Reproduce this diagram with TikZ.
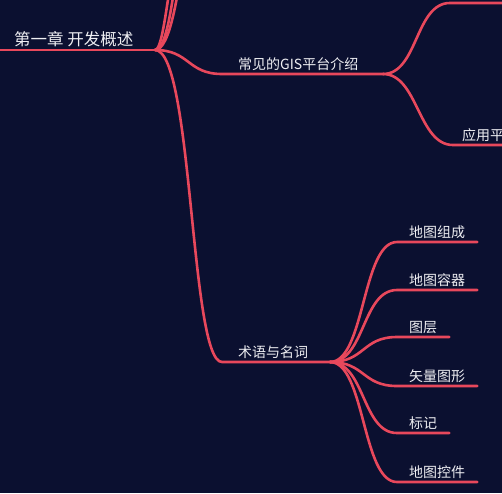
\documentclass[tikz,border=0pt]{standalone}
\usepackage{fontspec}
\setmainfont{Noto Sans CJK SC}
\usepackage{xcolor}
\usepackage{tikz}
\usetikzlibrary{positioning,calc}

\definecolor{mapbg}{HTML}{0B1030}
\definecolor{mapline}{HTML}{E8485C}
\definecolor{maptext}{HTML}{EEEEF2}

\tikzset{
    branch/.style={draw=mapline, line width=2.6pt, line cap=round},
    rootnode/.style={anchor=south west, text=maptext, inner xsep=14pt, inner ysep=3pt,
        font=\fontsize{16.5}{20}\selectfont},
    topicnode/.style={anchor=south west, text=maptext, inner xsep=16pt, inner ysep=3pt,
        font=\fontsize{14}{17}\selectfont},
    leafnode/.style={anchor=south west, text=maptext, inner xsep=12pt, inner ysep=3pt,
        font=\fontsize{14}{17}\selectfont}
}

\begin{document}
\begin{tikzpicture}[x=1pt,y=-1pt]
    \useasboundingbox (0,0) rectangle (502,493);
    \fill[mapbg] (0,0) rectangle (502,493);
    \clip (0,0) rectangle (502,493);

    % Root
    \node[rootnode] (ch1) at (0,50) {第一章 开发概述};
    \coordinate (rb) at (155,50);
    \draw[branch] (ch1.south west) -- (rb);

    % Siblings above (out of view)
    \coordinate (up1) at (190,-70);
    \coordinate (up2) at (200,-120);
    \coordinate (up3) at (210,-170);
    \draw[branch] (rb) .. controls +(12,0) and +(-20,0) .. (up1);
    \draw[branch] (rb) .. controls +(22,0) and +(-22,0) .. (up2);
    \draw[branch] (rb) .. controls +(30,0) and +(-22,0) .. (up3);

    % GIS platforms
    \node[topicnode] (gis) at (222,74) {常见的GIS平台介绍};
    \coordinate (gb) at (383,74);
    \draw[branch] (rb) .. controls +(35,0) and +(-35,0) .. (gis.south west) -- (gb);
    \coordinate (gtop) at (450,3);
    \draw[branch] (gb) .. controls +(35,0) and +(-35,0) .. (gtop) -- (510,3);
    \node[leafnode, inner xsep=9pt] (app) at (453,145) {应用平台};
    \draw[branch] (gb) .. controls +(35,0) and +(-35,0) .. (app.south west) -- (app.south east);

    % Terms
    \node[topicnode] (terms) at (222,362) {术语与名词};
    \coordinate (tb) at (330,362);
    \draw[branch] (rb) .. controls +(38,0) and +(-32,0) .. (terms.south west) -- (tb);

    \node[leafnode] (comp) at (397,242) {地图组成};
    \node[leafnode] (cont) at (397,290) {地图容器};
    \node[leafnode] (layer) at (397,337) {图层};
    \node[leafnode] (vect) at (397,386) {矢量图形};
    \node[leafnode] (mark) at (397,433) {标记};
    \node[leafnode] (ctrl) at (397,482) {地图控件};

    \draw[branch] (tb) .. controls +(35,0) and +(-35,0) .. (comp.south west) -- (comp.south east);
    \draw[branch] (tb) .. controls +(35,0) and +(-35,0) .. (cont.south west) -- (cont.south east);
    \draw[branch] (tb) .. controls +(35,0) and +(-35,0) .. (layer.south west) -- (layer.south east);
    \draw[branch] (tb) .. controls +(35,0) and +(-35,0) .. (vect.south west) -- (vect.south east);
    \draw[branch] (tb) .. controls +(35,0) and +(-35,0) .. (mark.south west) -- (mark.south east);
    \draw[branch] (tb) .. controls +(35,0) and +(-35,0) .. (ctrl.south west) -- (ctrl.south east);
\end{tikzpicture}
\end{document}
